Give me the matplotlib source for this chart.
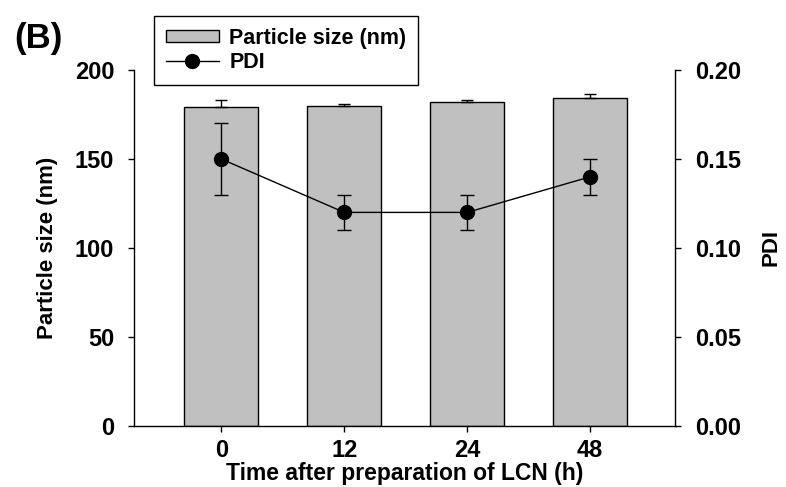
import matplotlib
matplotlib.use("Agg")
import matplotlib.pyplot as plt
from matplotlib.patches import Patch
from matplotlib.lines import Line2D
import numpy as np

plt.rcParams['font.family'] = ['Liberation Sans', 'DejaVu Sans']
plt.rcParams['font.weight'] = 'bold'

categories = ["0", "12", "24", "48"]
size_mean = [179.2, 179.8, 181.8, 184.5]
size_err = [3.8, 1.3, 1.5, 2.2]
pdi_mean = [0.15, 0.12, 0.12, 0.14]
pdi_err = [0.02, 0.01, 0.01, 0.01]

fig = plt.figure(figsize=(7.86, 4.87), dpi=100)
ax = fig.add_axes([134/786, 1-426/487, (675-134)/786, (426-70)/487])
x = np.arange(len(categories))

ax.bar(x, size_mean, width=0.6, color='#c0c0c0', edgecolor='black', linewidth=1.0, zorder=2)
ax.errorbar(x, size_mean, yerr=[np.zeros(len(x)), size_err], fmt='none', ecolor='black',
            elinewidth=1.0, capsize=4, capthick=1.0, zorder=3)
ax.set_xlim(-0.71, 3.69)
ax.set_ylim(0, 200)
ax.set_yticks([0, 50, 100, 150, 200])
ax.set_xticks(x)
ax.set_xticklabels(categories)
ax.spines['top'].set_visible(False)
ax.spines['right'].set_visible(False)
for s in ax.spines.values():
    s.set_linewidth(1.0)
ax.tick_params(axis='both', direction='out', length=4.3, width=1.0, labelsize=17)
ax.tick_params(axis='y', pad=10)
ax.tick_params(axis='x', pad=5)
ax.set_ylabel("Particle size (nm)", fontsize=16, fontweight='bold', labelpad=12)
ax.set_xlabel("Time after preparation of LCN (h)", fontsize=16.5, fontweight='bold', labelpad=0)

ax2 = ax.twinx()
ax2.errorbar(x, pdi_mean, yerr=pdi_err, fmt='-o', color='black', ecolor='black', markersize=10,
             linewidth=1.0, elinewidth=1.0, capsize=5, capthick=1.0, zorder=4)
ax2.set_ylim(0, 0.20)
ax2.set_yticks([0.00, 0.05, 0.10, 0.15, 0.20])
ax2.set_yticklabels(["0.00", "0.05", "0.10", "0.15", "0.20"])
ax2.spines['top'].set_visible(False)
ax2.spines['left'].set_visible(False)
ax2.spines['bottom'].set_visible(False)
ax2.spines['right'].set_linewidth(1.0)
ax2.tick_params(axis='y', direction='out', length=4.3, width=1.0, labelsize=17, pad=10)
ax2.set_ylabel("PDI", fontsize=16, fontweight='bold', rotation=90, labelpad=14)

handles = [Patch(facecolor='#c0c0c0', edgecolor='black', linewidth=1.0),
           Line2D([], [], color='black', marker='o', markersize=10, linewidth=1.0)]
leg = fig.legend(handles, ["Particle size (nm)", "PDI"], loc='upper left',
                 bbox_to_anchor=(154/786, 1-16/487), borderaxespad=0, fontsize=15.5,
                 frameon=True, fancybox=False, edgecolor='black', handlelength=2.45,
                 handleheight=0.5, labelspacing=0.15, borderpad=0.55, handletextpad=0.5)
leg.get_frame().set_linewidth(1.0)
leg.get_frame().set_facecolor('white')
leg.get_frame().set_alpha(1)
for t in leg.get_texts():
    t.set_fontweight('bold')

fig.text(14/786, 1-48/487, "(B)", fontsize=25, fontweight='bold', va='baseline', ha='left')

fig.savefig("out.png", dpi=100)
